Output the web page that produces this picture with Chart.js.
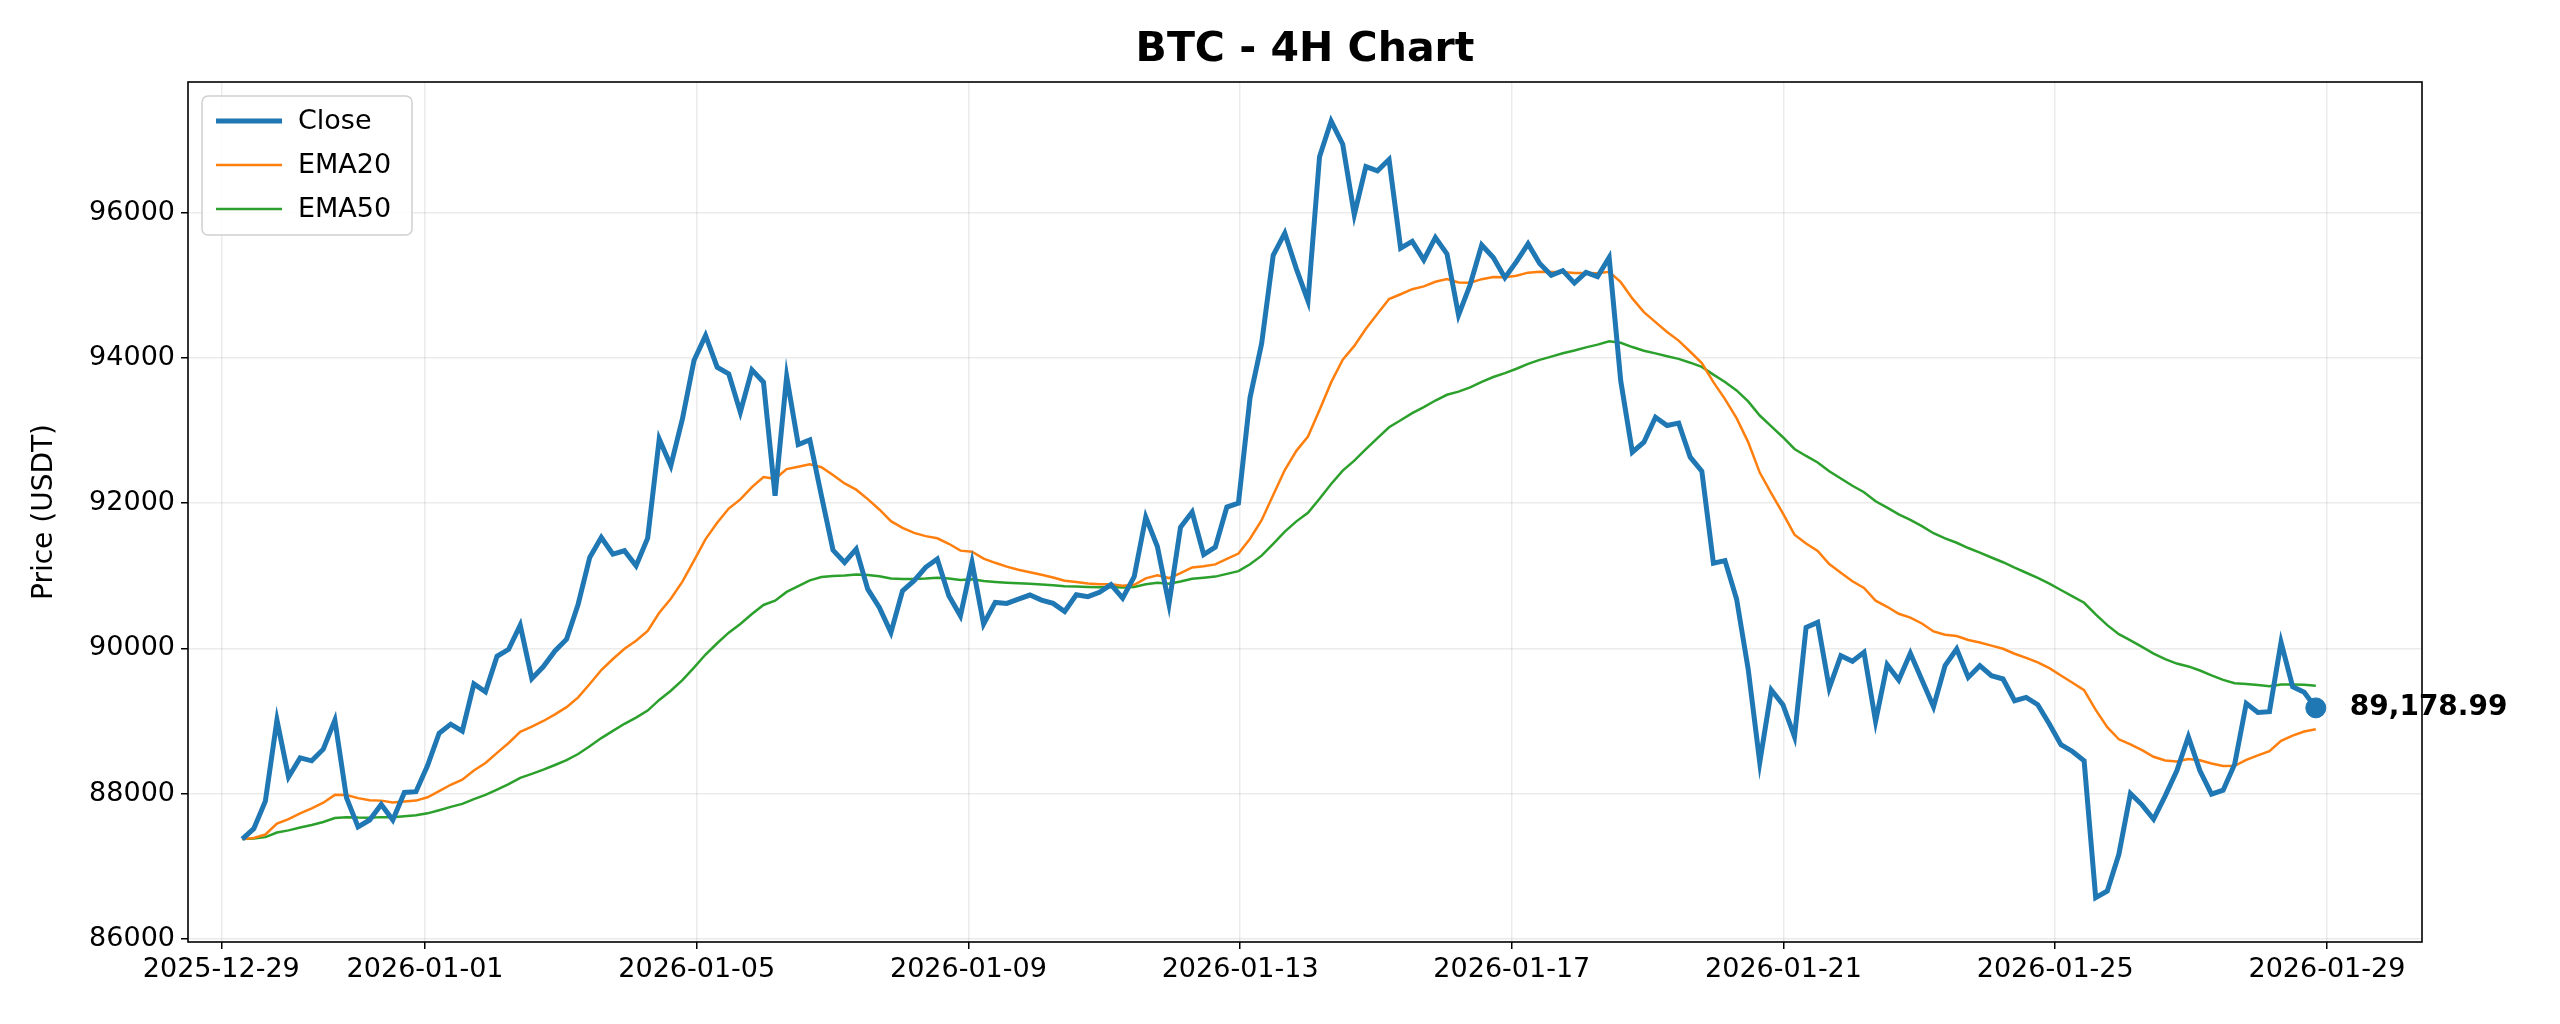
<!DOCTYPE html>
<html>
<head>
<meta charset="utf-8">
<script src="https://cdn.jsdelivr.net/npm/chart.js@4.4.1/dist/chart.umd.min.js"></script>
<style>
  html, body { margin: 0; padding: 0; background: #fff; }
  #wrap { width: 2560px; height: 1024px; }
</style>
</head>
<body>
<div id="wrap"><canvas id="chart"></canvas></div>
<script>
// 4H closes
const closes = [
  87373, 87515, 87895, 89010, 88228, 88490, 88450, 88610, 89010, 87943,
  87540, 87635, 87850, 87635, 88015, 88025, 88385, 88830, 88955, 88860,
  89510, 89400, 89890, 89985, 90318, 89582, 89748, 89963, 90124, 90607,
  91251, 91526, 91297, 91343, 91136, 91517, 92883, 92515, 93159, 93963,
  94308, 93871, 93779, 93251, 93834, 93664, 92101, 93743, 92805, 92869,
  92101, 91352, 91182, 91366, 90814, 90561, 90216, 90791, 90931, 91115,
  91230, 90724, 90447, 91184, 90332, 90631, 90618, 90677, 90733, 90664,
  90618, 90507, 90737, 90710, 90770, 90876, 90691, 90986, 91806, 91401,
  90608, 91668, 91876, 91290, 91392, 91945, 92000, 93450, 94196, 95412,
  95716, 95225, 94784, 96770, 97260, 96941, 95971, 96632, 96574, 96730,
  95510, 95603, 95348, 95657, 95431, 94588, 95005, 95554, 95382, 95103,
  95324, 95569, 95299, 95137, 95201, 95029, 95176, 95118, 95382, 93681,
  92700, 92838, 93182, 93068, 93100, 92631, 92438, 91170, 91207, 90679,
  89714, 88428, 89425, 89223, 88782, 90288, 90357, 89452, 89898, 89820,
  89944, 88993, 89774, 89563, 89930, 89563, 89195, 89760, 89990, 89599,
  89760, 89623, 89577, 89278, 89324, 89223, 88956, 88671, 88579, 88451,
  86566, 86657, 87163, 88000, 87844, 87646, 87968, 88313, 88782, 88313,
  87991, 88046, 88405, 89241, 89117, 89126, 90083, 89471, 89393, 89178.99
];
// time of first candle and candle length, in days relative to 2026-01-01
const startDay = -2.692;
const stepDay = 0.17055;

const tickDays = [-3, 0, 4, 8, 12, 16, 20, 24, 28];
const tickLabels = ["2025-12-29", "2026-01-01", "2026-01-05", "2026-01-09", "2026-01-13",
                    "2026-01-17", "2026-01-21", "2026-01-25", "2026-01-29"];
const yTicks = [86000, 88000, 90000, 92000, 94000, 96000];

function ema(values, span) {
  const a = 2 / (span + 1);
  const out = [];
  values.forEach((v, i) => out.push(i === 0 ? v : a * v + (1 - a) * out[i - 1]));
  return out;
}

const ema20 = ema(closes, 20);
const ema50 = ema(closes, 50);
const toPoints = arr => arr.map((v, i) => ({ x: startDay + i * stepDay, y: v }));
const lastPoint = { x: startDay + (closes.length - 1) * stepDay, y: closes[closes.length - 1] };

const FONT = "'DejaVu Sans', sans-serif";

const overlay = {
  id: "overlay",
  afterDraw(chart) {
    const { ctx, chartArea: a, scales } = chart;
    ctx.save();
    // frame
    ctx.strokeStyle = "#000";
    ctx.lineWidth = 1.6;
    ctx.strokeRect(a.left, a.top, a.right - a.left, a.bottom - a.top);
    // title
    ctx.fillStyle = "#000";
    ctx.font = "bold 41px " + FONT;
    ctx.textAlign = "center";
    ctx.textBaseline = "middle";
    ctx.fillText("BTC - 4H Chart", (a.left + a.right) / 2, 50);
    // y title
    ctx.save();
    ctx.translate(45, (a.top + a.bottom) / 2);
    ctx.rotate(-Math.PI / 2);
    ctx.font = "28px " + FONT;
    ctx.fillText("Price (USDT)", 0, 0);
    ctx.restore();
    // last price label
    const px = scales.x.getPixelForValue(lastPoint.x);
    const py = scales.y.getPixelForValue(lastPoint.y);
    ctx.font = "bold 28px " + FONT;
    ctx.textAlign = "left";
    ctx.fillText(lastPoint.y.toLocaleString("en-US", { minimumFractionDigits: 2 }), px + 34, py);
    // legend
    const lx = a.left + 14, ly = a.top + 14, lw = 210, lh = 139;
    ctx.fillStyle = "rgba(255,255,255,0.85)";
    ctx.strokeStyle = "#d0d0d0";
    ctx.lineWidth = 1.5;
    ctx.beginPath();
    ctx.roundRect(lx, ly, lw, lh, 6);
    ctx.fill();
    ctx.stroke();
    ctx.font = "27px " + FONT;
    chart.data.datasets.slice(0, 3).forEach((ds, i) => {
      const yy = ly + 25 + i * 44;
      ctx.strokeStyle = ds.borderColor;
      ctx.lineWidth = ds.borderWidth;
      ctx.beginPath();
      ctx.moveTo(lx + 14, yy);
      ctx.lineTo(lx + 80, yy);
      ctx.stroke();
      ctx.fillStyle = "#000";
      ctx.fillText(ds.label, lx + 96, yy + 1);
    });
    ctx.restore();
  }
};

new Chart(document.getElementById("chart"), {
  type: "line",
  data: {
    datasets: [
      { label: "Close", data: toPoints(closes), borderColor: "#1f77b4", borderWidth: 5, pointRadius: 0 },
      { label: "EMA20", data: toPoints(ema20), borderColor: "#ff7f0e", borderWidth: 2.5, pointRadius: 0 },
      { label: "EMA50", data: toPoints(ema50), borderColor: "#2ca02c", borderWidth: 2.5, pointRadius: 0 },
      { label: "Last", data: [lastPoint], borderColor: "#1f77b4", backgroundColor: "#1f77b4",
        pointRadius: 10, showLine: false }
    ]
  },
  options: {
    responsive: true,
    maintainAspectRatio: false,
    animation: false,
    layout: { padding: { top: 82, right: 138, left: 0, bottom: 0 } },
    plugins: { legend: { display: false }, tooltip: { enabled: false } },
    scales: {
      x: {
        type: "linear",
        min: -3.49,
        max: 29.4,
        afterBuildTicks: axis => { axis.ticks = tickDays.map(v => ({ value: v })); },
        afterFit: axis => { axis.height = 82; },
        ticks: {
          autoSkip: false, maxRotation: 0, color: "#000", padding: 5,
          font: { family: FONT, size: 27 },
          callback: v => tickLabels[tickDays.indexOf(v)]
        },
        grid: { color: "rgba(0,0,0,0.08)", lineWidth: 1.5, tickColor: "#000", tickLength: 7 },
        border: { display: false }
      },
      y: {
        min: 85955,
        max: 97798,
        afterBuildTicks: axis => { axis.ticks = yTicks.map(v => ({ value: v })); },
        afterFit: axis => { axis.width = 188; },
        ticks: { color: "#000", padding: 6, font: { family: FONT, size: 27 }, callback: v => String(v) },
        grid: { color: "rgba(0,0,0,0.08)", lineWidth: 1.5, tickColor: "#000", tickLength: 7 },
        border: { display: false }
      }
    }
  },
  plugins: [overlay]
});
</script>
</body>
</html>
